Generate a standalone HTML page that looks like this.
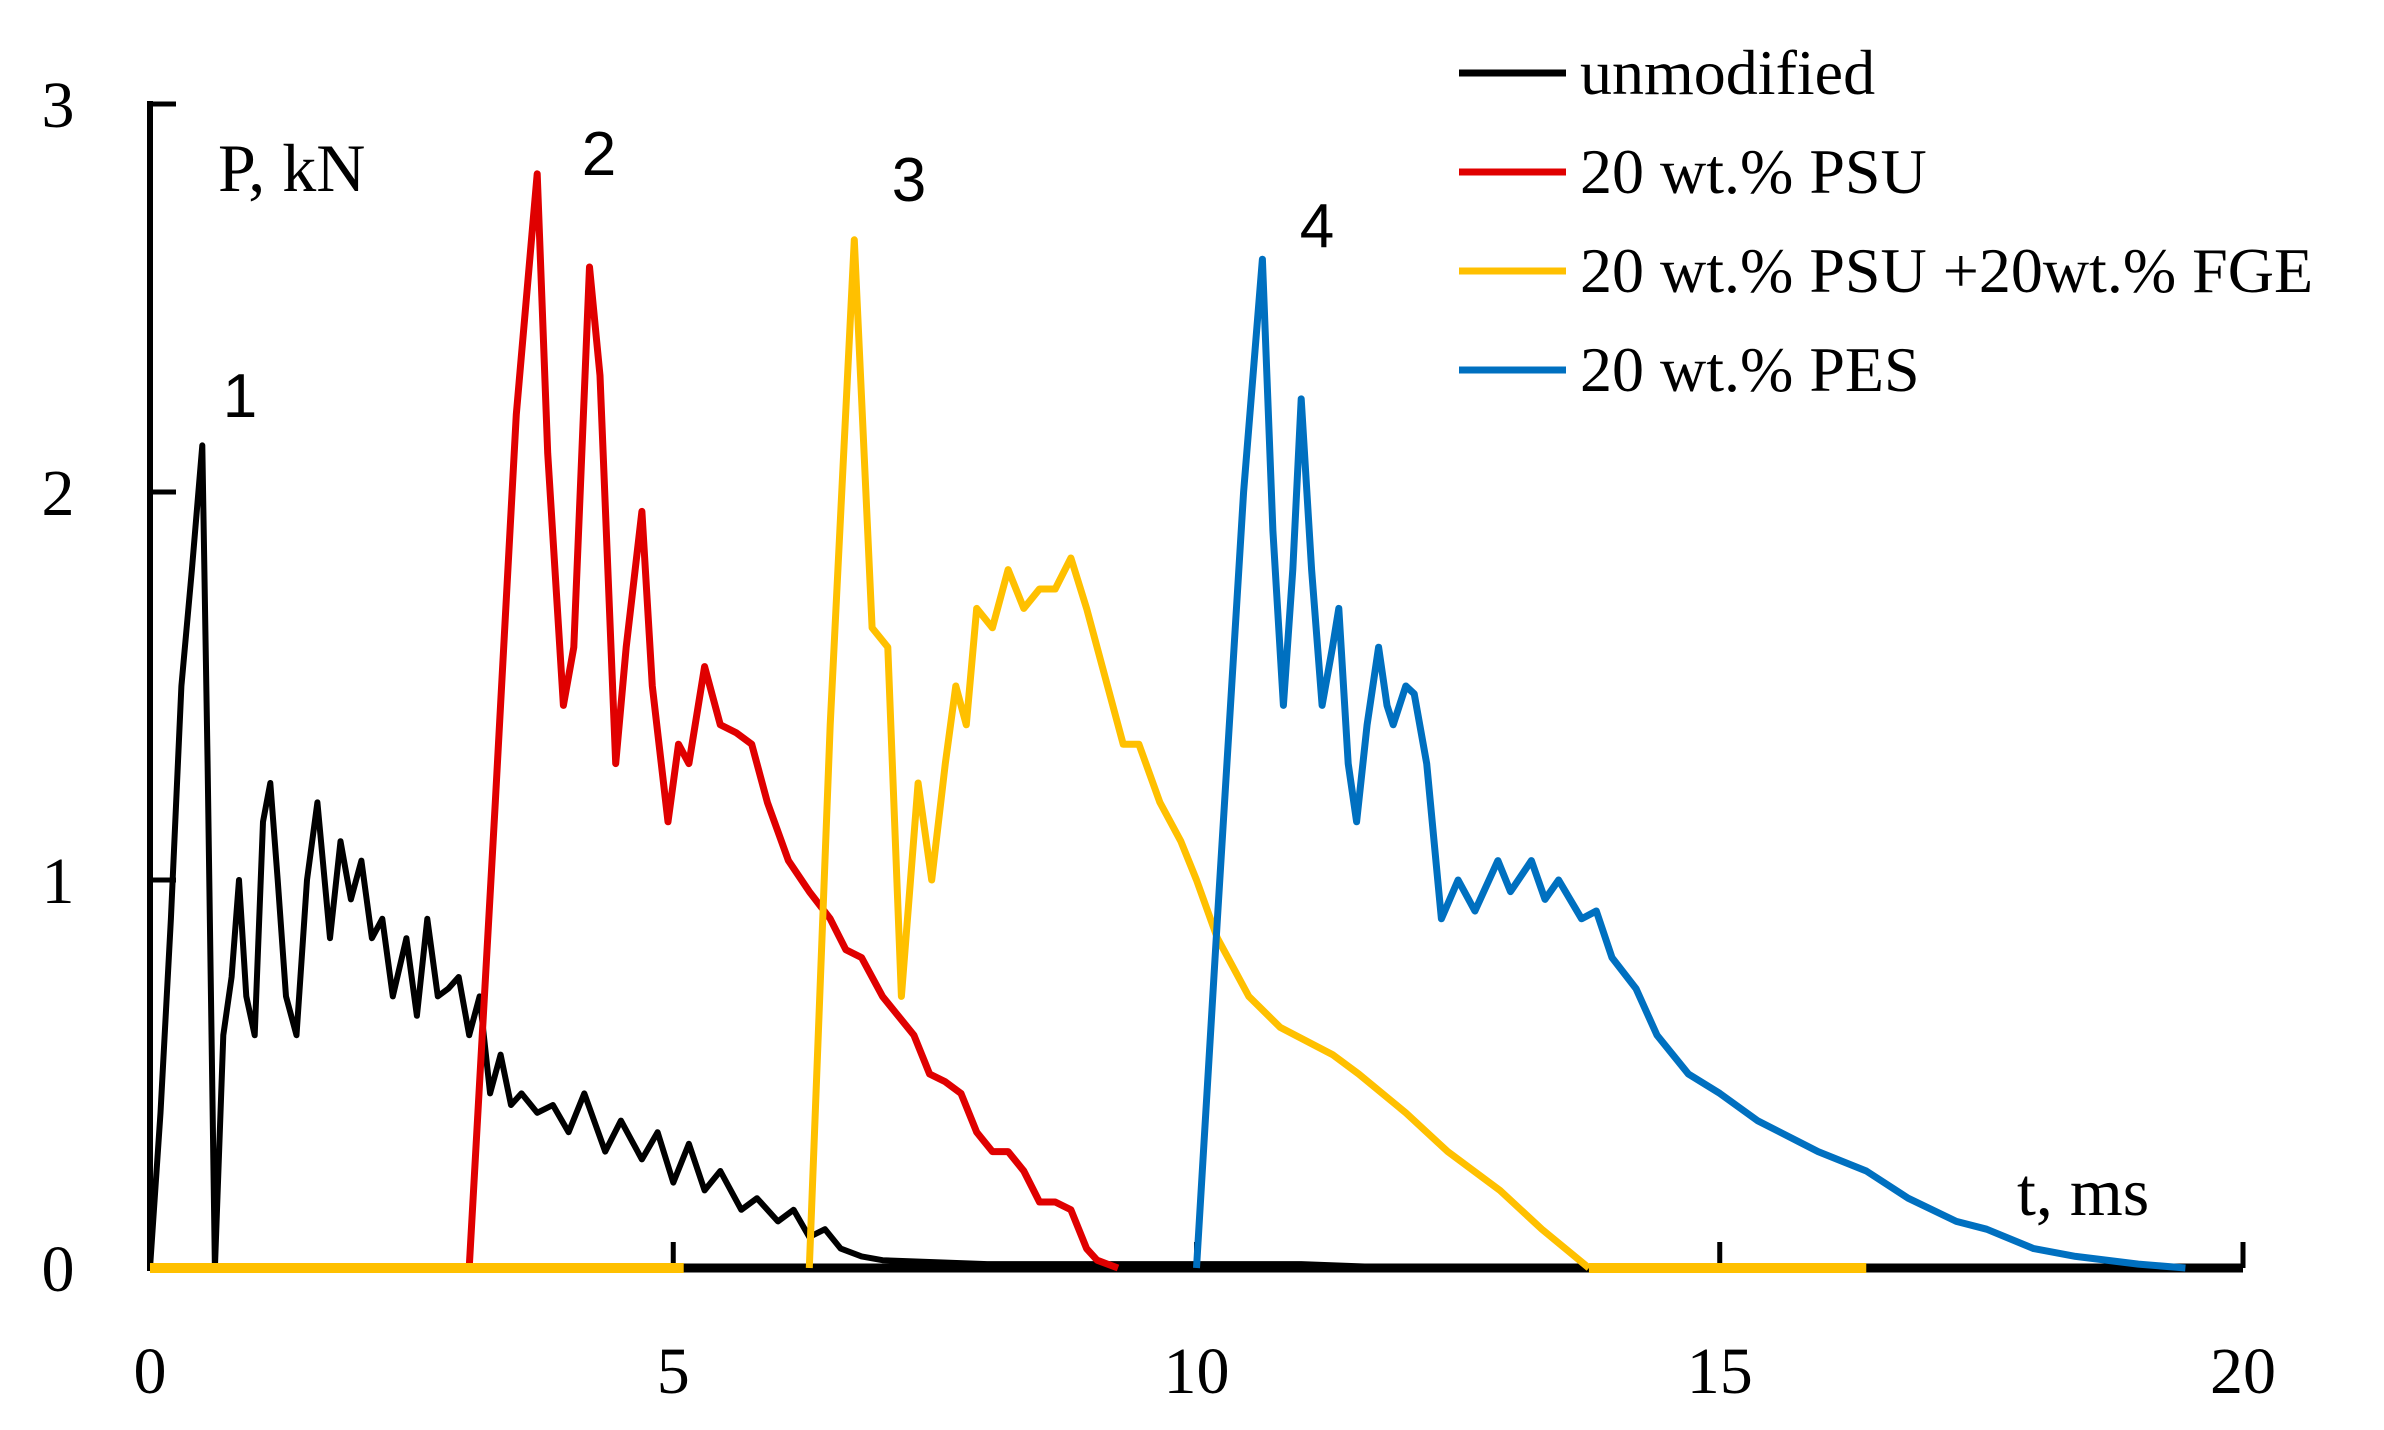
<!DOCTYPE html>
<html><head><meta charset="utf-8"><style>
html,body{margin:0;padding:0;background:#fff;}
svg{display:block;}
text{font-family:"Liberation Serif",serif;fill:#000;}
.num{font-family:"Liberation Sans",sans-serif;}
</style></head><body>
<svg id="chart" width="2384" height="1430" viewBox="0 0 2384 1430" xmlns="http://www.w3.org/2000/svg">
<g id="axes"></g>
<g id="series"></g>
<text x="218" y="191" font-size="68">P, kN</text>
<text x="2017" y="1215" font-size="68">t, ms</text>
<text class="num" x="240" y="417" font-size="62" text-anchor="middle">1</text>
<text class="num" x="599" y="175" font-size="62" text-anchor="middle">2</text>
<text class="num" x="909" y="201" font-size="62" text-anchor="middle">3</text>
<text class="num" x="1317" y="247" font-size="62" text-anchor="middle">4</text>
<g id="legend"></g>
</svg>
<script>
const xTicks=[0,5,10,15,20];
const yTicks=[0,1,2,3];
const seriesNames=["unmodified","20 wt.% PSU","20 wt.% PSU +20wt.% FGE","20 wt.% PES"];
const seriesColors=["#000000","#e00000","#ffc000","#0070c0"];
const tBlack=[0,0.1,0.2,0.3,0.4,0.5,0.55,0.62,0.7,0.78,0.85,0.92,1.0,1.08,1.15,1.22,1.3,1.4,1.5,1.6,1.72,1.82,1.92,2.02,2.12,2.22,2.32,2.45,2.55,2.65,2.75,2.85,2.95,3.05,3.15,3.25,3.35,3.45,3.55,3.7,3.85,4.0,4.15,4.35,4.5,4.7,4.85,5.0,5.15,5.3,5.45,5.65,5.8,6.0,6.15,6.3,6.45,6.6,6.8,7.0,8.0,9.0,10.0,11.0,12.0,20.0];
const pBlack=[0,0.4,0.9,1.5,1.8,2.12,1.3,0,0.6,0.75,1.0,0.7,0.6,1.15,1.25,1.0,0.7,0.6,1.0,1.2,0.85,1.1,0.95,1.05,0.85,0.9,0.7,0.85,0.65,0.9,0.7,0.72,0.75,0.6,0.7,0.45,0.55,0.42,0.45,0.4,0.42,0.35,0.45,0.3,0.38,0.28,0.35,0.22,0.32,0.2,0.25,0.15,0.18,0.12,0.15,0.08,0.1,0.05,0.03,0.02,0.01,0.01,0.01,0.01,0,0];
const tRed=[3.05,3.3,3.5,3.7,3.8,3.95,4.05,4.2,4.3,4.45,4.55,4.7,4.8,4.95,5.05,5.15,5.3,5.45,5.6,5.75,5.9,6.1,6.3,6.5,6.65,6.8,7.0,7.15,7.3,7.45,7.6,7.75,7.9,8.05,8.2,8.35,8.5,8.65,8.8,8.95,9.05,9.15,9.25];
const pRed=[0,1.2,2.2,2.82,2.1,1.45,1.6,2.58,2.3,1.3,1.6,1.95,1.5,1.15,1.35,1.3,1.55,1.4,1.38,1.35,1.2,1.05,0.97,0.9,0.82,0.8,0.7,0.65,0.6,0.5,0.48,0.45,0.35,0.3,0.3,0.25,0.17,0.17,0.15,0.05,0.02,0.01,0];
const tYellow=[6.3,6.5,6.73,6.9,7.05,7.18,7.34,7.47,7.6,7.7,7.8,7.9,8.05,8.2,8.35,8.5,8.65,8.8,8.95,9.1,9.3,9.45,9.65,9.85,10.0,10.2,10.3,10.5,10.8,11.3,11.55,12.0,12.4,12.9,13.3,13.75];
const pYellow=[0,1.4,2.65,1.65,1.6,0.7,1.25,1.0,1.3,1.5,1.4,1.7,1.65,1.8,1.7,1.75,1.75,1.83,1.7,1.55,1.35,1.35,1.2,1.1,1.0,0.85,0.8,0.7,0.62,0.55,0.5,0.4,0.3,0.2,0.1,0];
const tBlue=[10.0,10.2,10.45,10.63,10.73,10.83,10.92,11.0,11.1,11.2,11.3,11.36,11.45,11.53,11.63,11.74,11.82,11.88,12.0,12.08,12.2,12.34,12.5,12.66,12.88,13.0,13.2,13.33,13.46,13.68,13.82,13.97,14.2,14.4,14.7,15.0,15.36,15.94,16.4,16.8,17.26,17.55,18.0,18.4,19.0,19.45];
const pBlue=[0,0.9,2.0,2.6,1.9,1.45,1.8,2.24,1.8,1.45,1.6,1.7,1.3,1.15,1.4,1.6,1.45,1.4,1.5,1.48,1.3,0.9,1.0,0.92,1.05,0.97,1.05,0.95,1.0,0.9,0.92,0.8,0.72,0.6,0.5,0.45,0.38,0.3,0.25,0.18,0.12,0.1,0.05,0.03,0.01,0];
const yellowZeroRuns=[[0,5.1],[13.75,16.4]];

const NS="http://www.w3.org/2000/svg";
const X0=150,X1=2243,Y0=1268,Y1=104;
function sx(t){return X0+(X1-X0)*t/20;}
function sy(p){return Y0-(Y0-Y1)*p/3;}
function mk(tag,attrs,parent){const e=document.createElementNS(NS,tag);for(const k in attrs)e.setAttribute(k,attrs[k]);parent.appendChild(e);return e;}
const axes=document.getElementById('axes');
const series=document.getElementById('series');
const legend=document.getElementById('legend');

let a=mk('line',{x1:X0,y1:Y0,x2:X1,y2:Y0,stroke:'#000','stroke-width':9},axes);

a=mk('line',{x1:X0,y1:Y0+3,x2:X0,y2:Y1-3,stroke:'#000','stroke-width':6},axes);

xTicks.forEach(v=>{
  const l=mk('line',{x1:sx(v),y1:Y0,x2:sx(v),y2:Y0-26,stroke:'#000','stroke-width':5},axes);
  
  
  const t=mk('text',{x:sx(v),y:1393,'font-size':66,'text-anchor':'middle'},axes);
  t.textContent=v;
  
  
});
yTicks.forEach(v=>{
  const l=mk('line',{x1:X0,y1:sy(v),x2:X0+26,y2:sy(v),stroke:'#000','stroke-width':5},axes);
  
  
  const t=mk('text',{x:58,y:sy(v)+23,'font-size':66,'text-anchor':'middle'},axes);
  t.textContent=v;
  
  
});

function line(ts,ps,color,name,w){
  const d=ts.map((t,i)=>(i?'L':'M')+sx(t).toFixed(1)+' '+sy(ps[i]).toFixed(1)).join(' ');
  const p=mk('path',{d:d,fill:'none',stroke:color,'stroke-width':w,'stroke-linejoin':'round'},series);
  
  
}
line(tBlack,pBlack,seriesColors[0],'series-unmodified',6);
line(tRed,pRed,seriesColors[1],'series-psu',7);
line(tYellow,pYellow,seriesColors[2],'series-psu-fge',7);
line(tBlue,pBlue,seriesColors[3],'series-pes',7);
yellowZeroRuns.forEach(r=>{
  const p=mk('line',{x1:sx(r[0]),y1:Y0,x2:sx(r[1]),y2:Y0,stroke:seriesColors[2],'stroke-width':10},series);
  
  
});

seriesNames.forEach((n,i)=>{
  const y=73+i*99;
  const l=mk('line',{x1:1459,y1:y,x2:1566,y2:y,stroke:seriesColors[i],'stroke-width':7},legend);
  
  
  const t=mk('text',{x:1580,y:y+21,'font-size':64},legend);
  t.textContent=n;
  
  
});
</script>
</body></html>
